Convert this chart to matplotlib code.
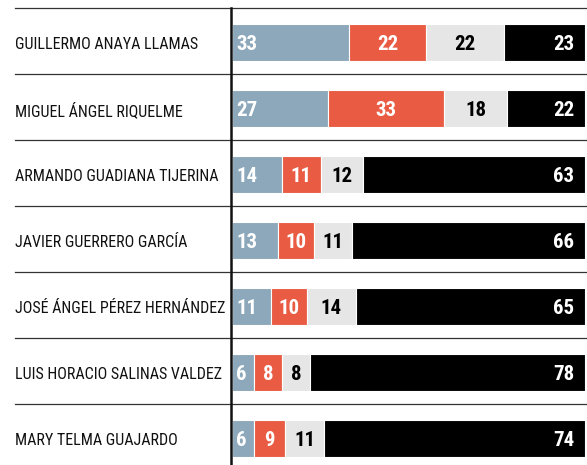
import matplotlib.pyplot as plt
import matplotlib.transforms as mtransforms
from matplotlib import font_manager as fm
import numpy as np

names = [
    "GUILLERMO ANAYA LLAMAS",
    "MIGUEL ÁNGEL RIQUELME",
    "ARMANDO GUADIANA TIJERINA",
    "JAVIER GUERRERO GARCÍA",
    "JOSÉ ÁNGEL PÉREZ HERNÁNDEZ",
    "LUIS HORACIO SALINAS VALDEZ",
    "MARY TELMA GUAJARDO",
]
seg1 = [33, 27, 14, 13, 11, 6, 6]
seg2 = [22, 33, 11, 10, 10, 8, 9]
seg3 = [22, 18, 12, 11, 14, 8, 11]
seg4 = [23, 22, 63, 66, 65, 78, 74]

colors = ["#8ca8ba", "#e95b43", "#e6e6e6", "#000000"]
text_colors = ["white", "white", "black", "white"]


def find_condensed(bold):
    # look for a narrow / condensed face among the installed fonts
    found = []
    for f in fm.fontManager.ttflist:
        nm = f.name.lower()
        fn = f.fname.lower()
        is_bold = f.weight in ("bold", 700) or "bold" in fn
        if "italic" in fn or "oblique" in fn:
            continue
        if is_bold != bold:
            continue
        cond = ("narrow" in nm or "condensed" in nm or "narrow" in fn
                or "condensed" in fn or f.stretch == "condensed")
        if cond:
            found.append(f.fname)
    for key in ["roboto", "liberation", "open", "noto", "dejavu"]:
        for p in found:
            if key in p.lower():
                return fm.FontProperties(fname=p)
    if found:
        return fm.FontProperties(fname=found[0])
    return fm.FontProperties(family="DejaVu Sans",
                             weight="bold" if bold else "normal")


reg_font = find_condensed(False)
bold_font = find_condensed(True)

W, H = 587, 465
fig = plt.figure(figsize=(W / 100, H / 100), dpi=100)
ax = fig.add_axes([232.5 / W, 0, (585 - 232.5) / W, 1])

row_px = 66.0
top = -0.53 - 8 / row_px
ax.set_ylim(top + H / row_px, top)
ax.set_xlim(0, 100)
ax.axis("off")

y = np.arange(len(names))
series = [seg1, seg2, seg3, seg4]
left = np.zeros(len(names))
for k, vals in enumerate(series):
    vals = np.array(vals, dtype=float)
    ax.barh(y, vals, left=left, height=37 / row_px, color=colors[k],
            edgecolor="white", linewidth=0.8, zorder=2)
    for i, v in enumerate(vals):
        if k == 0:
            xt, ha = left[i] + 1.0, "left"
        elif k == 3:
            xt, ha = 97.0, "right"
        else:
            xt, ha = left[i] + v / 2, "center"
        ax.text(xt, y[i] + 0.02, f"{int(v)}", ha=ha, va="center",
                color=text_colors[k], fontproperties=bold_font, fontsize=15,
                zorder=3)
    left += vals

# row separators and names
blend = mtransforms.blended_transform_factory(fig.transFigure, ax.transData)
for i, nm in enumerate(names):
    sep = i - 0.53
    ax.plot([15 / W, 1], [sep, sep], color="#333333", linewidth=0.9,
            transform=blend, clip_on=False, zorder=1)
    ax.text(15 / W, i + 0.02, nm, transform=blend, ha="left", va="center",
            fontproperties=reg_font, fontsize=11.5, color="#111111")

ax.plot([-0.4, -0.4], [-0.53, top + H / row_px], color="#111111",
        linewidth=1.8, clip_on=False, zorder=4)

fig.savefig("out.png", dpi=100)
